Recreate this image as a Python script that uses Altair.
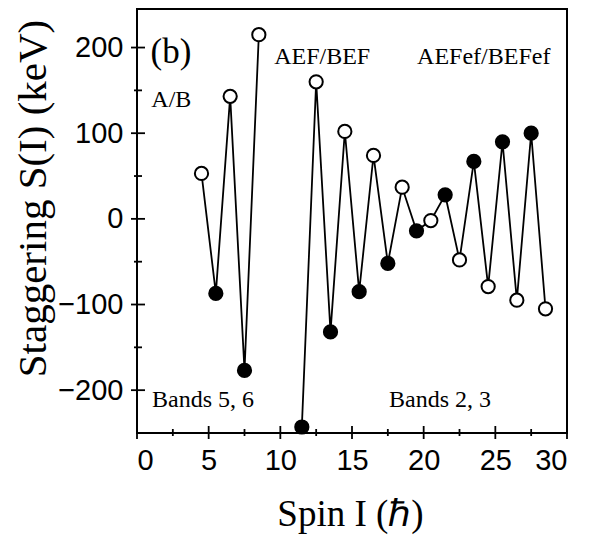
import altair as alt
import pandas as pd

# ---- data ----
spin_56 = [4.5, 5.5, 6.5, 7.5, 8.5]
stag_56 = [53, -87, 143, -177, 215]
fill_56 = ["open", "filled", "open", "filled", "open"]

spin_23 = [11.5, 12.5, 13.5, 14.5, 15.5, 16.5, 17.5, 18.5, 19.5, 20.5,
           21.5, 22.5, 23.5, 24.5, 25.5, 26.5, 27.5, 28.5]
stag_23 = [-243, 160, -132, 102, -85, 74, -52, 37, -14, -2,
           28, -48, 67, -79, 90, -95, 100, -105]
fill_23 = ["filled", "open"] * 9

y_major = [-200, -100, 0, 100, 200]
y_minor = [-150, -50, 50, 150]
x_major = [0, 5, 10, 15, 20, 25, 30]
x_minor = [2.5, 7.5, 12.5, 17.5, 22.5, 27.5]

ann_text = ["(b)", "A/B", "AEF/BEF", "AEFef/BEFef", "Bands 5, 6", "Bands 2, 3"]
ann_x = [0.94, 1.0, 9.57, 19.54, 1.05, 17.58]
ann_y = [182, 130.5, 181, 181, -220, -220]
ann_size = [35, 24, 24, 24, 24, 24]

df = pd.DataFrame({
    "spin": spin_56 + spin_23,
    "stag": stag_56 + stag_23,
    "fill": fill_56 + fill_23,
    "band": ["Bands 5, 6"] * len(spin_56) + ["Bands 2, 3"] * len(spin_23),
})
ann = pd.DataFrame({"text": ann_text, "x": ann_x, "y": ann_y, "size": ann_size})

W, H = 430, 424
xs = alt.Scale(domain=[0, 30], nice=False, zero=False)
ys = alt.Scale(domain=[-250, 245], nice=False, zero=False)

SERIF = "Liberation Serif"
SANS = "Liberation Sans"

x_axis = alt.Axis(values=x_major, format="d", ticks=False, tickSize=0, domain=False, grid=False,
                  labelFont=SANS, labelFontSize=29, labelColor="black", labelPadding=13,
                  title="Spin I (ℏ)", titleFont=SERIF, titleFontSize=37, titleFontWeight="normal",
                  titleColor="black", titleX=213, titleY=92, titleBaseline="alphabetic",
                  titleAlign="center")
y_axis = alt.Axis(values=y_major, format="d", ticks=False, tickSize=0, domain=False, grid=False,
                  labelFont=SANS, labelFontSize=29, labelColor="black", labelPadding=14,
                  title="Staggering S(I) (keV)", titleFont=SERIF, titleFontSize=41,
                  titleFontWeight="normal", titleColor="black", titleX=-92, titleY=189,
                  titleBaseline="alphabetic", titleAlign="center", titleAngle=270)

line = alt.Chart(df).mark_line(color="black", strokeWidth=1.8).encode(
    x=alt.X("spin:Q", scale=xs, axis=x_axis),
    y=alt.Y("stag:Q", scale=ys, axis=y_axis),
    detail="band:N",
)
pts = alt.Chart(df).mark_point(shape="circle", size=175, stroke="black", strokeWidth=2,
                               opacity=1, filled=True).encode(
    x=alt.X("spin:Q", scale=xs),
    y=alt.Y("stag:Q", scale=ys),
    fill=alt.Fill("fill:N", scale=alt.Scale(domain=["open", "filled"], range=["white", "black"]),
                  legend=None),
)

ymaj_df = pd.DataFrame({"v": y_major})
ymin_df = pd.DataFrame({"v": y_minor})
xmaj_df = pd.DataFrame({"v": x_major})
xmin_df = pd.DataFrame({"v": x_minor})

ytick_major = alt.Chart(ymaj_df).mark_rule(color="black", strokeWidth=1.8).encode(
    y=alt.Y("v:Q", scale=ys), x=alt.value(-6), x2=alt.value(8))
ytick_minor = alt.Chart(ymin_df).mark_rule(color="black", strokeWidth=1.8).encode(
    y=alt.Y("v:Q", scale=ys), x=alt.value(-3), x2=alt.value(5))
xtick_major = alt.Chart(xmaj_df).mark_rule(color="black", strokeWidth=1.8).encode(
    x=alt.X("v:Q", scale=xs), y=alt.value(H - 7), y2=alt.value(H + 6))
xtick_minor = alt.Chart(xmin_df).mark_rule(color="black", strokeWidth=1.8).encode(
    x=alt.X("v:Q", scale=xs), y=alt.value(H - 4), y2=alt.value(H + 3))

texts = alt.Chart(ann).mark_text(font=SERIF, align="left", baseline="alphabetic",
                                 color="black").encode(
    x=alt.X("x:Q", scale=xs),
    y=alt.Y("y:Q", scale=ys),
    text="text:N",
    size=alt.Size("size:Q", scale=None, legend=None),
)

chart = alt.layer(line, pts, ytick_major, ytick_minor, xtick_major, xtick_minor, texts).properties(
    width=W, height=H,
    autosize=alt.AutoSizeParams(type="none"),
    padding={"left": 129, "top": 1, "right": 10, "bottom": 104},
    background="white",
).configure_view(stroke="black", strokeWidth=2)

chart.save("out.html", embed_options={"renderer": "svg", "actions": False})
